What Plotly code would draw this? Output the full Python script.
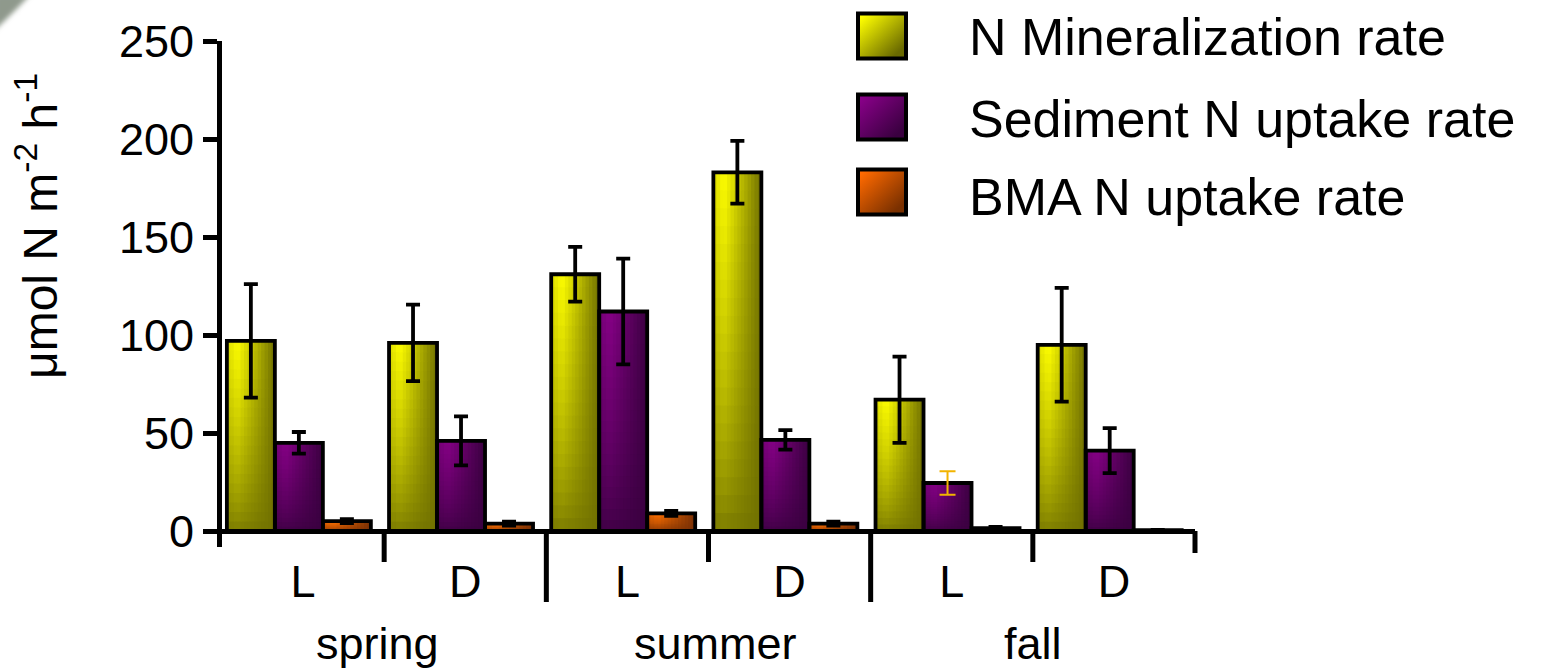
import base64
import plotly.graph_objects as go

# ---- data -----------------------------------------------------------------
categories = ["spring L", "spring D", "summer L", "summer D", "fall L", "fall D"]
tick_labels = ["L", "D", "L", "D", "L", "D"]
seasons = ["spring", "summer", "fall"]
series_names = ["N Mineralization rate", "Sediment N uptake rate", "BMA N uptake rate"]

mineralization = [97, 96, 131, 183, 67, 95]
mineralization_err = [29, 19.5, 14, 16, 22, 29]
sediment_uptake = [45, 46, 112, 46.5, 24.5, 41]
sediment_uptake_err = [5.5, 12.5, 27, 5, 6, 11.5]
bma_uptake = [5, 3.8, 9, 3.8, 1.5, 0.4]
bma_uptake_err = [1, 1, 1.3, 1, 0.6, 0.2]

y_ticks = [0, 50, 100, 150, 200, 250]

# ---- styling --------------------------------------------------------------
FONT = "Liberation Sans, Arial, sans-serif"
W, H = 1545, 668
PLOT_L, PLOT_R, PLOT_T, PLOT_B = 222, 1195, 41, 547
BASE_PX = 531  # pixel row of y = 0

# (bright, dark) end colours of each series' shading
palette = [
    ((255, 255, 0), (112, 112, 0)),
    ((134, 0, 134), (58, 0, 64)),
    ((255, 112, 0), (122, 48, 4)),
]
key_stops = [("#ffff00", "#6a6a00"), ("#880088", "#3a0040"), ("#ff6a00", "#7a3000")]

BAR_W = 0.296
FIRST_OFFSET = -0.47
N_STRIPS, N_SLICES = 14, 20


def px_x(px):
    return (px - PLOT_L) / (PLOT_R - PLOT_L)


def px_y(py):
    return (PLOT_B - py) / (PLOT_B - PLOT_T)


def shade(bright, dark, u, t):
    # u: 0 (left edge) .. 1 (right edge); t: 0 (bottom) .. 1 (top)
    if u < 0.22:
        kh = 0.75 + 0.25 * u / 0.22
    else:
        kh = 1 - (u - 0.22) / 0.78
    kv = 0.08 + 0.92 * t ** 0.75
    k = max(0.0, min(1.0, kh * kv))
    r, g, b = (round(d + (br - d) * k) for br, d in zip(bright, dark))
    return f"rgb({r},{g},{b})"


x_idx = list(range(len(categories)))
values = [mineralization, sediment_uptake, bma_uptake]
errors = [mineralization_err, sediment_uptake_err, bma_uptake_err]

fig = go.Figure()

# shaded bar bodies: each bar is built from a grid of thin overlapping pieces
for s, vals in enumerate(values):
    bright, dark = palette[s]
    off0 = FIRST_OFFSET + s * BAR_W
    sw = BAR_W / N_STRIPS
    for j in range(N_SLICES):
        base = [v * j / N_SLICES for v in vals]
        if j < N_SLICES - 1:
            length = [v / N_SLICES * 1.4 for v in vals]
        else:
            length = [v - b for v, b in zip(vals, base)]
        t = (j + 0.5) / N_SLICES
        for k in range(N_STRIPS):
            u = (k + 0.5) / N_STRIPS
            width = sw * 1.4 if k < N_STRIPS - 1 else sw
            fig.add_trace(go.Bar(
                x=x_idx, y=length, base=base,
                offset=off0 + k * sw, width=width,
                marker=dict(color=shade(bright, dark, u, t), line=dict(width=0)),
                showlegend=False, hoverinfo="skip",
            ))

# black outlines of every bar
for s, vals in enumerate(values):
    fig.add_trace(go.Bar(
        x=x_idx, y=vals, offset=FIRST_OFFSET + s * BAR_W, width=BAR_W,
        marker=dict(color="rgba(0,0,0,0)", line=dict(color="black", width=3.8)),
        name=series_names[s], showlegend=False,
    ))

# error bars; one of them is drawn thin and gold
HIGHLIGHT = (1, 4)  # (series, category)
for s, (vals, errs) in enumerate(zip(values, errors)):
    groups = {
        "black": [i for i in x_idx if (s, i) != HIGHLIGHT],
        "gold": [i for i in x_idx if (s, i) == HIGHLIGHT],
    }
    for colour, idx in groups.items():
        if not idx:
            continue
        style = (dict(color="black", thickness=3.8, width=7) if colour == "black"
                 else dict(color="#f2b400", thickness=2, width=8))
        fig.add_trace(go.Bar(
            x=idx, y=[vals[i] for i in idx],
            offset=FIRST_OFFSET + s * BAR_W, width=BAR_W,
            marker=dict(color="rgba(0,0,0,0)", line=dict(width=0)),
            error_y=dict(type="data", array=[errs[i] for i in idx], **style),
            showlegend=False, hoverinfo="skip",
        ))

# ---- axes decorations -----------------------------------------------------
shapes = []
base_frac = px_y(BASE_PX)
n_cat = len(categories)
for b in range(1, n_cat + 1):
    if b == n_cat:
        end_px = 553
    elif b % 2 == 0:
        end_px = 602  # season separators
    else:
        end_px = 562
    shapes.append(dict(
        type="line", xref="x domain", yref="y domain",
        x0=b / n_cat, x1=b / n_cat, y0=base_frac, y1=px_y(end_px),
        line=dict(color="black", width=5),
    ))

annotations = []
season_shift = [-7, 7, 0]
for i, name in enumerate(seasons):
    annotations.append(dict(
        x=2 * i + 0.5, xref="x", y=px_y(643), yref="paper", text=name,
        showarrow=False, xanchor="center", yanchor="middle", xshift=season_shift[i],
        font=dict(family=FONT, size=45, color="black"),
    ))

annotations.append(dict(
    x=px_x(37), xref="paper", y=px_y(226), yref="paper",
    text="μmol N m<sup>-2</sup> h<sup>-1</sup>", textangle=-90,
    showarrow=False, xanchor="center", yanchor="middle",
    font=dict(family=FONT, size=48, color="black"),
))

# ---- legend ---------------------------------------------------------------
def gradient_svg(c0, c1):
    svg = (
        "<svg xmlns='http://www.w3.org/2000/svg' width='100' height='100'>"
        "<defs><linearGradient id='g' x1='0' y1='0' x2='1' y2='1'>"
        f"<stop offset='0.08' stop-color='{c0}'/><stop offset='0.85' stop-color='{c1}'/>"
        "</linearGradient></defs><rect width='100' height='100' fill='url(#g)'/></svg>"
    )
    return "data:image/svg+xml;base64," + base64.b64encode(svg.encode()).decode()


images = []
key_rows = [36, 117, 192]
text_rows = [37, 119, 197]
KEY_L, KEY_R, KEY_H = 858, 906, 45
for s, name in enumerate(series_names):
    top = key_rows[s] - KEY_H / 2
    images.append(dict(
        source=gradient_svg(*key_stops[s]), xref="paper", yref="paper",
        x=px_x(KEY_L), y=px_y(top), sizex=px_x(KEY_R) - px_x(KEY_L),
        sizey=KEY_H / (PLOT_B - PLOT_T), xanchor="left", yanchor="top",
        sizing="stretch", layer="above",
    ))
    shapes.append(dict(
        type="rect", xref="paper", yref="paper",
        x0=px_x(KEY_L), x1=px_x(KEY_R), y0=px_y(top), y1=px_y(top + KEY_H),
        line=dict(color="black", width=4), fillcolor="rgba(0,0,0,0)",
    ))
    annotations.append(dict(
        x=px_x(967), xref="paper", y=px_y(text_rows[s]), yref="paper", text=name,
        showarrow=False, xanchor="left", yanchor="middle",
        font=dict(family=FONT, size=52, color="black"),
    ))

# faint scanner smudge in the top-left corner
smudge = (
    "<svg xmlns='http://www.w3.org/2000/svg' width='80' height='60'>"
    "<filter id='b'><feGaussianBlur stdDeviation='2.5'/></filter>"
    "<path d='M-5,-5 L30,-5 Q18,8 -5,30 Z' fill='#8f998c' filter='url(#b)'/></svg>"
)
images.append(dict(
    source="data:image/svg+xml;base64," + base64.b64encode(smudge.encode()).decode(),
    xref="paper", yref="paper", x=px_x(0), y=px_y(0),
    sizex=80 / (PLOT_R - PLOT_L), sizey=60 / (PLOT_B - PLOT_T),
    xanchor="left", yanchor="top", sizing="stretch", layer="above",
))

y_per_px = 250 / (BASE_PX - PLOT_T)
fig.update_layout(
    width=W, height=H,
    margin=dict(l=PLOT_L, r=W - PLOT_R, t=PLOT_T, b=H - PLOT_B, pad=0),
    barmode="overlay",
    plot_bgcolor="white", paper_bgcolor="white",
    font=dict(family=FONT, color="black"),
    xaxis=dict(
        range=[-0.5, n_cat - 0.5], tickvals=x_idx, ticktext=tick_labels,
        showgrid=False, zeroline=False, showline=False,
        ticks="", ticklabelstandoff=4,
        tickfont=dict(family=FONT, size=45, color="black"),
    ),
    yaxis=dict(
        range=[-(PLOT_B - BASE_PX) * y_per_px, 250], tickvals=y_ticks,
        showgrid=False, showline=True, linecolor="black", linewidth=5,
        zeroline=True, zerolinecolor="black", zerolinewidth=5,
        ticks="outside", ticklen=14, tickwidth=5, tickcolor="black",
        tickfont=dict(family=FONT, size=45, color="black"),
    ),
    shapes=shapes, annotations=annotations, images=images,
    showlegend=False,
)

fig.write_html("out.html")
